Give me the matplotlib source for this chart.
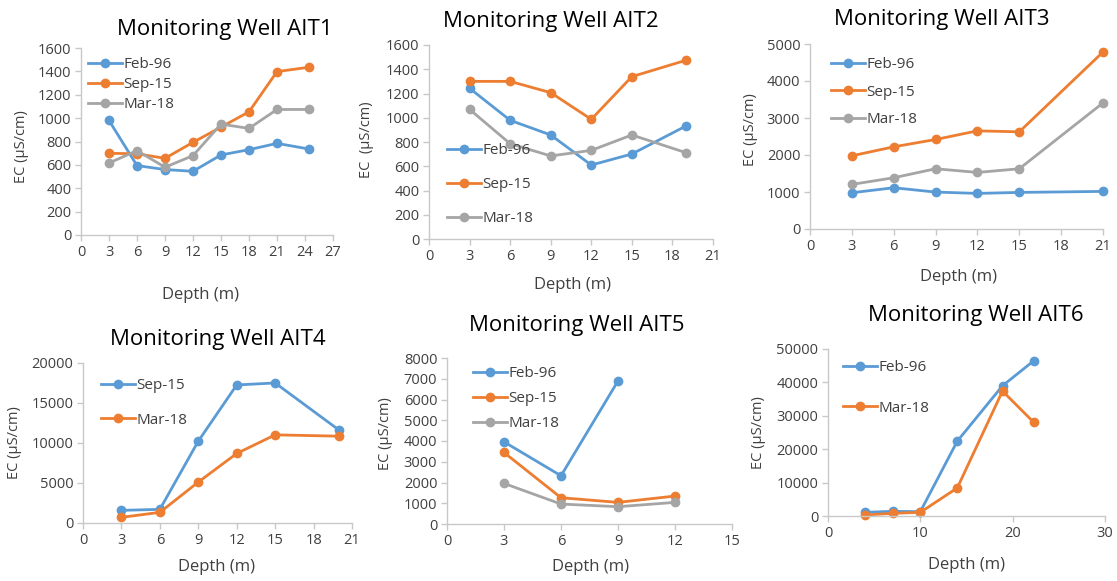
import matplotlib
matplotlib.use("Agg")
import matplotlib.pyplot as plt

W, H = 1117, 581
plt.rcParams['font.family'] = ['Open Sans', 'DejaVu Sans']

BLUE, ORANGE, GRAY = '#5B9BD5', '#ED7D31', '#A5A5A5'
TXT = '#404040'

# ---- data ----
ait1_depth = [3, 6, 9, 12, 15, 18, 21, 24.4]
ait1_feb96 = [980, 594, 560, 545, 685, 730, 784, 736]
ait1_sep15 = [699, 695, 656, 793, 923, 1054, 1398, 1435]
ait1_mar18 = [616, 722, 580, 679, 949, 912, 1074, 1074]

ait2_depth = [3, 6, 9, 12, 15, 19]
ait2_feb96 = [1243, 979, 858, 610, 701, 932]
ait2_sep15 = [1300, 1300, 1207, 987, 1339, 1474]
ait2_mar18 = [1069, 786, 685, 731, 858, 712]

ait3_depth = [3, 6, 9, 12, 15, 21]
ait3_feb96 = [980, 1115, 998, 962, 989, 1016]
ait3_sep15 = [1978, 2221, 2419, 2653, 2626, 4784]
ait3_mar18 = [1205, 1385, 1628, 1529, 1628, 3408]

ait4_depth = [3, 6, 9, 12, 15, 20]
ait4_sep15 = [1580, 1705, 10229, 17256, 17505, 11600]
ait4_mar18 = [707, 1331, 5114, 8690, 11019, 10852]

ait5_depth_feb = [3, 6, 9]
ait5_feb96 = [3960, 2325, 6893]
ait5_depth = [3, 6, 9, 12]
ait5_sep15 = [3447, 1266, 1042, 1347]
ait5_mar18 = [1956, 962, 834, 1042]

ait6_depth = [4, 7, 10, 14, 18.9, 22.3]
ait6_feb96 = [1100, 1400, 1300, 22400, 39000, 46500]
ait6_mar18 = [300, 800, 1100, 8400, 37400, 28000]

titles = ['Monitoring Well AIT1', 'Monitoring Well AIT2', 'Monitoring Well AIT3',
          'Monitoring Well AIT4', 'Monitoring Well AIT5', 'Monitoring Well AIT6']

fig = plt.figure(figsize=(W / 100, H / 100), dpi=100)
fig.patch.set_facecolor('white')


def fx(px):
    return px / W


def fy(py):
    return 1 - py / H


def make_ax(l, r, t, b):
    ax = fig.add_axes([fx(l), fy(b), fx(r - l), (b - t) / H])
    for s in ['top', 'right']:
        ax.spines[s].set_visible(False)
    for s in ['left', 'bottom']:
        ax.spines[s].set_color('#C8C8C8')
        ax.spines[s].set_linewidth(1.0)
    ax.tick_params(axis='both', colors='#C8C8C8', labelcolor=TXT, labelsize=10.5,
                   length=4, width=1, direction='out', pad=3)
    return ax


def plot(ax, x, y, color, label):
    ax.plot(x, y, color=color, lw=2, marker='o', ms=6, label=label, clip_on=False)


def legend(ax, x, y, spacing):
    ax.legend(loc='upper left', bbox_to_anchor=(fx(x), fy(y)),
              bbox_transform=fig.transFigure, frameon=False, fontsize=11,
              handlelength=2.2, handletextpad=0.1, borderpad=0,
              borderaxespad=0, labelspacing=spacing, labelcolor=TXT)


def labels(title, tx, ty, xl, xx, xy, yx, yy, ylabel='EC (µS/cm)'):
    fig.text(fx(tx), fy(ty), title, ha='center', va='center', fontsize=16, color='black')
    fig.text(fx(xx), fy(xy), xl, ha='center', va='center', fontsize=12, color=TXT)
    fig.text(fx(yx), fy(yy), ylabel, ha='center', va='center', fontsize=10.5,
             color=TXT, rotation=90)


# Panel 1
ax = make_ax(81, 333, 48, 235)
plot(ax, ait1_depth, ait1_feb96, BLUE, 'Feb-96')
plot(ax, ait1_depth, ait1_sep15, ORANGE, 'Sep-15')
plot(ax, ait1_depth, ait1_mar18, GRAY, 'Mar-18')
ax.set_xlim(0, 27); ax.set_xticks(range(0, 28, 3))
ax.set_ylim(0, 1600); ax.set_yticks(range(0, 1601, 200))
legend(ax, 88, 57, 0.33)
labels(titles[0], 225, 30, 'Depth (m)', 201, 295, 22, 147)

# Panel 2
ax = make_ax(429, 713, 45, 239)
plot(ax, ait2_depth, ait2_feb96, BLUE, 'Feb-96')
plot(ax, ait2_depth, ait2_sep15, ORANGE, 'Sep-15')
plot(ax, ait2_depth, ait2_mar18, GRAY, 'Mar-18')
ax.set_xlim(0, 21); ax.set_xticks(range(0, 22, 3))
ax.set_ylim(0, 1600); ax.set_yticks(range(0, 1601, 200))
legend(ax, 447, 143, 1.25)
labels(titles[1], 551, 22, 'Depth (m)', 572, 285, 367, 140, 'EC  (µS/cm)')

# Panel 3
ax = make_ax(810, 1103, 44, 229)
plot(ax, ait3_depth, ait3_feb96, BLUE, 'Feb-96')
plot(ax, ait3_depth, ait3_sep15, ORANGE, 'Sep-15')
plot(ax, ait3_depth, ait3_mar18, GRAY, 'Mar-18')
ax.set_xlim(0, 21); ax.set_xticks(range(0, 22, 3))
ax.set_ylim(0, 5000); ax.set_yticks(range(0, 5001, 1000))
legend(ax, 831, 57, 0.82)
labels(titles[2], 942, 20, 'Depth (m)', 958, 277, 750, 130)

# Panel 4
ax = make_ax(83, 352, 363, 523)
plot(ax, ait4_depth, ait4_sep15, BLUE, 'Sep-15')
plot(ax, ait4_depth, ait4_mar18, ORANGE, 'Mar-18')
ax.set_xlim(0, 21); ax.set_xticks(range(0, 22, 3))
ax.set_ylim(0, 20000); ax.set_yticks(range(0, 20001, 5000))
legend(ax, 101, 378, 1.28)
labels(titles[3], 218, 340, 'Depth (m)', 217, 567, 15, 443)

# Panel 5
ax = make_ax(447, 732, 358, 524)
plot(ax, ait5_depth_feb, ait5_feb96, BLUE, 'Feb-96')
plot(ax, ait5_depth, ait5_sep15, ORANGE, 'Sep-15')
plot(ax, ait5_depth, ait5_mar18, GRAY, 'Mar-18')
ax.set_xlim(0, 15); ax.set_xticks(range(0, 16, 3))
ax.set_ylim(0, 8000); ax.set_yticks(range(0, 8001, 1000))
legend(ax, 473, 366, 0.66)
labels(titles[4], 577, 325, 'Depth (m)', 590, 567, 385, 434)

# Panel 6
ax = make_ax(828, 1105, 349, 516)
plot(ax, ait6_depth, ait6_feb96, BLUE, 'Feb-96')
plot(ax, ait6_depth, ait6_mar18, ORANGE, 'Mar-18')
ax.set_xlim(0, 30); ax.set_xticks(range(0, 31, 10))
ax.set_ylim(0, 50000); ax.set_yticks(range(0, 50001, 10000))
legend(ax, 843, 360, 1.67)
labels(titles[5], 976, 315, 'Depth (m)', 967, 565, 758, 433)

fig.savefig('out.png', dpi=100)
